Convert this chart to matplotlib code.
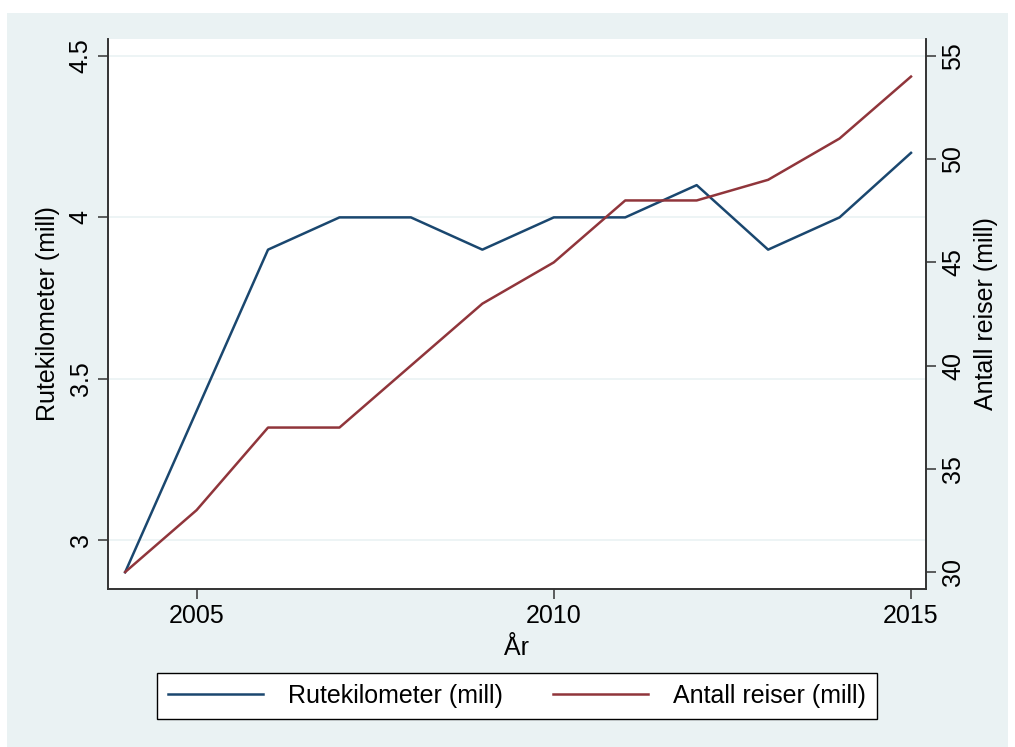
import matplotlib.pyplot as plt
from matplotlib.patches import Rectangle

plt.rcParams['font.family'] = ['Liberation Sans', 'DejaVu Sans']

years = [2004, 2005, 2006, 2007, 2008, 2009, 2010, 2011, 2012, 2013, 2014, 2015]
rutekm = [2.9, 3.4, 3.9, 4.0, 4.0, 3.9, 4.0, 4.0, 4.1, 3.9, 4.0, 4.2]
reiser = [30, 33, 37, 37, 40, 43, 45, 48, 48, 49, 51, 54]

bg = '#eaf2f3'
blue = '#1a476f'
red = '#90353b'

fig = plt.figure(figsize=(10.15, 7.47), dpi=100, facecolor='white')
fig.patches.append(Rectangle((7 / 1015, 0), 1001 / 1015, 734 / 747,
                             transform=fig.transFigure, facecolor=bg,
                             edgecolor='none', zorder=-10))

ax = fig.add_axes([108 / 1015, 1 - 589 / 747, 818 / 1015, 550 / 747])
ax2 = ax.twinx()

l1, = ax.plot(years, rutekm, color=blue, lw=1.8, label='Rutekilometer (mill)')
l2, = ax2.plot(years, reiser, color=red, lw=1.8, label='Antall reiser (mill)')

ax.set_xlim(2003.76, 2015.21)
ax.set_ylim(2.848, 4.553)
ax2.set_ylim(29.18, 55.82)
ax.set_xticks([2005, 2010, 2015])
ax.set_yticks([3, 3.5, 4, 4.5])
ax.set_yticklabels(['3', '3.5', '4', '4.5'], rotation=90, va='center')
ax2.set_yticks([30, 35, 40, 45, 50, 55])
ax2.set_yticklabels(['30', '35', '40', '45', '50', '55'], rotation=90, va='center')

ax.grid(axis='y', color=bg, lw=1.2)
ax.set_axisbelow(True)

for a in (ax, ax2):
    a.spines['top'].set_visible(False)
    for s in ('left', 'right', 'bottom'):
        a.spines[s].set_color('#333333')
        a.spines[s].set_linewidth(1.2)
    a.tick_params(length=7, width=1.1, color='#333333', labelsize=18, pad=4)

ax.set_xlabel('År', fontsize=18, labelpad=0)
ax.set_ylabel('Rutekilometer (mill)', fontsize=18, labelpad=6)
ax2.set_ylabel('Antall reiser (mill)', fontsize=18, labelpad=6)
ax.xaxis.set_label_coords(0.5, -0.085)

leg = fig.legend([l1, l2], ['Rutekilometer (mill)', 'Antall reiser (mill)'],
                 loc='center', bbox_to_anchor=(517 / 1015, 1 - 696 / 747),
                 ncol=2, fontsize=18, frameon=True, fancybox=False,
                 handlelength=3.8, columnspacing=2.0, borderpad=0.45,
                 handletextpad=1.0, framealpha=1)
leg.get_frame().set_edgecolor('black')
leg.get_frame().set_facecolor('white')
leg.get_frame().set_linewidth(1.0)

fig.savefig('out.png', dpi=100, facecolor=fig.get_facecolor())
